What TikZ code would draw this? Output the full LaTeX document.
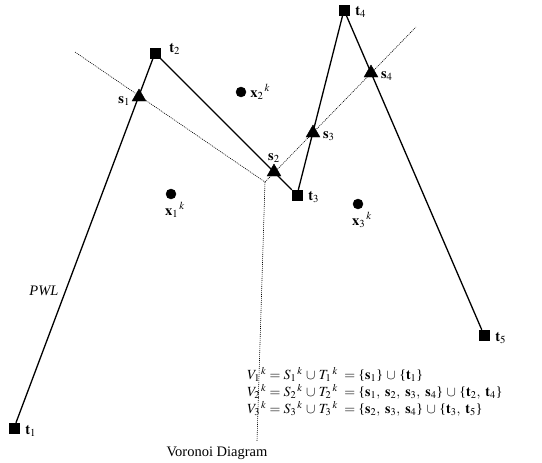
\documentclass[tikz,border=0pt]{standalone}
\usepackage{mathptmx}
\usepackage{fontspec}
\setmainfont{Liberation Serif}
\usetikzlibrary{positioning,shapes.geometric}

\tikzset{
  endpt/.style={draw, rectangle, fill=black, minimum size=10pt, inner sep=0pt},
  cutpt/.style={draw, regular polygon, regular polygon sides=3, fill=black, minimum size=16pt, inner sep=0pt},
  seedpt/.style={draw, circle, fill=black, minimum size=10pt, inner sep=0pt},
  pwl/.style={line width=1.3pt},
  voro/.style={line width=0.6pt, dash pattern=on 1pt off 1pt},
  eqline/.style={anchor=base west, inner sep=0pt, text height=10pt, text depth=3pt, font=\fontsize{14}{16}\selectfont}
}
\newcommand{\vunion}{\,\cup\,}
\newcommand{\setof}[1]{\mbox{\{}#1\mbox{\}}}

\begin{document}
\begin{tikzpicture}[x=1pt, y=-1pt, every node/.style={font=\fontsize{14.5}{16.5}\selectfont, inner sep=1pt}]
  \useasboundingbox (0,0) rectangle (542,463);
  % voronoi diagram
  \coordinate (v) at (265,182);
  \coordinate (va) at (75,52);
  \coordinate (vb) at (416,27);
  \coordinate (vc) at (257,441);
  \draw[voro] (va) -- (v);
  \draw[voro] (v) -- (vb);
  \draw[voro] (v) -- (vc);
  % piecewise linear path
  \node[endpt] (t1) at (14,428) {};
  \node[endpt] (t2) at (155,53) {};
  \node[endpt] (t3) at (297,195) {};
  \node[endpt] (t4) at (344,10) {};
  \node[endpt] (t5) at (484,335) {};
  \draw[pwl] (t1) -- (t2);
  \draw[pwl] (t2) -- (t3);
  \draw[pwl] (t3) -- (t4);
  \draw[pwl] (t4) -- (t5);
  \node[cutpt] (s1) at (139,97) {};
  \node[cutpt] (s2) at (274,172) {};
  \node[cutpt] (s3) at (313,133) {};
  \node[cutpt] (s4) at (371,73) {};
  \node[seedpt] (x1) at (171,194) {};
  \node[seedpt] (x2) at (241,92) {};
  \node[seedpt] (x3) at (358,204) {};
  % labels
  \node[right=5pt of t1, yshift=-3pt] (t1lab) {$\mathbf{t}_1$};
  \node[right=8pt of t2, yshift=4pt] (t2lab) {$\mathbf{t}_2$};
  \node[right=5pt of t3, yshift=-2pt] (t3lab) {$\mathbf{t}_3$};
  \node[right=5pt of t4, yshift=-2pt] (t4lab) {$\mathbf{t}_4$};
  \node[right=5pt of t5, yshift=-3pt] (t5lab) {$\mathbf{t}_5$};
  \node[left=3pt of s1, yshift=-4pt] (s1lab) {$\mathbf{s}_1$};
  \node[above=0pt of s2] (s2lab) {$\mathbf{s}_2$};
  \node[right=4pt of s3, yshift=-3pt] (s3lab) {$\mathbf{s}_3$};
  \node[right=4pt of s4, yshift=-3pt] (s4lab) {$\mathbf{s}_4$};
  \node[below=2pt of x1, xshift=4pt] (x1lab) {$\mathbf{x}_1{}^{\,k}$};
  \node[right=3pt of x2] (x2lab) {$\mathbf{x}_2{}^{\,k}$};
  \node[below=2pt of x3, xshift=4pt] (x3lab) {$\mathbf{x}_3{}^{\,k}$};
  \node (pwllab) at (44,291) {\textit{PWL}};
  \node (vlab) at (217,453) {Voronoi Diagram};
  \node[eqline] (eq1) at (247,379.5) {$V_1{}^{\,k} = S_1{}^{\,k} \vunion T_1{}^{\,k}\ = \setof{\mathbf{s}_1} \vunion \setof{\mathbf{t}_1}$};
  \node[eqline] (eq2) at (247,396.5) {$V_2{}^{\,k} = S_2{}^{\,k} \vunion T_2{}^{\,k}\ = \setof{\mathbf{s}_1,\ \mathbf{s}_2,\ \mathbf{s}_3,\ \mathbf{s}_4} \vunion \setof{\mathbf{t}_2,\ \mathbf{t}_4}$};
  \node[eqline] (eq3) at (247,413.5) {$V_3{}^{\,k} = S_3{}^{\,k} \vunion T_3{}^{\,k}\ = \setof{\mathbf{s}_2,\ \mathbf{s}_3,\ \mathbf{s}_4} \vunion \setof{\mathbf{t}_3,\ \mathbf{t}_5}$};
\end{tikzpicture}
\end{document}
